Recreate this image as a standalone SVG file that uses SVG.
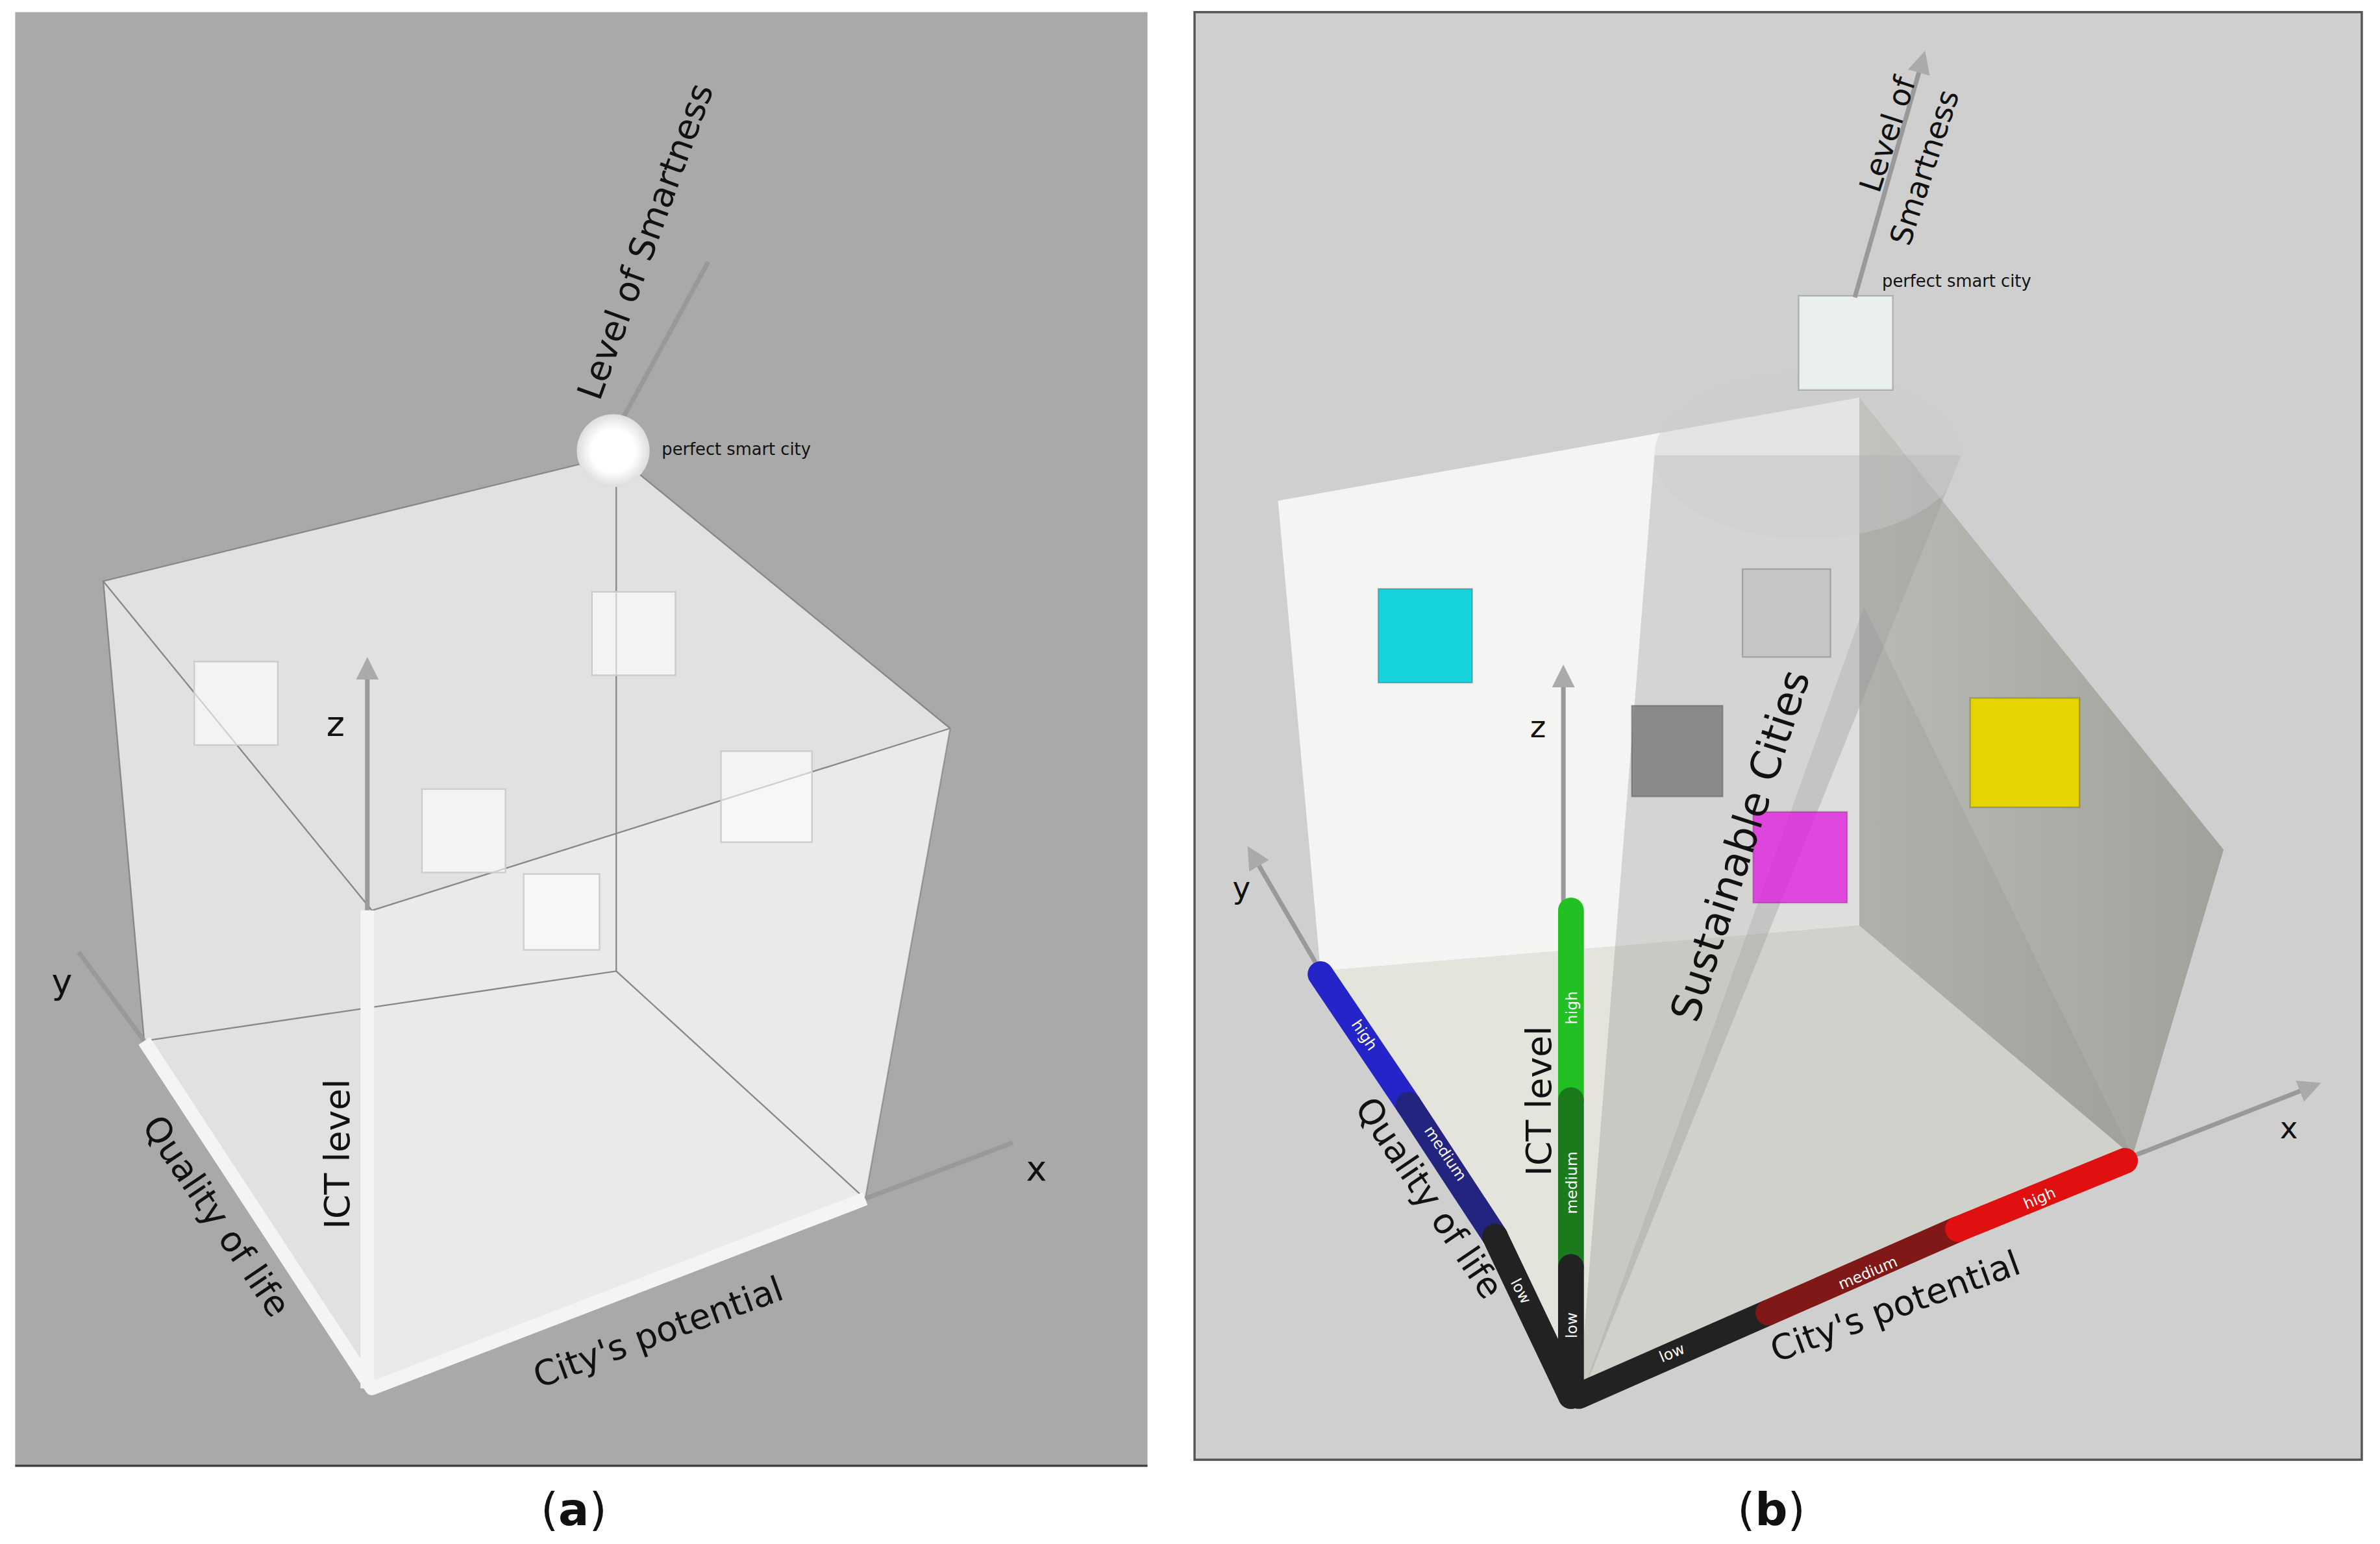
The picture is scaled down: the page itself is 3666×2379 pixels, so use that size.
<svg xmlns="http://www.w3.org/2000/svg" width="3666" height="2379" viewBox="0 0 3666 2379">
<style>
text{font-family:"DejaVu Sans","Liberation Sans",sans-serif;fill:#111}
.lbl{font-size:23px}
.sm{font-size:11px}
.tl{font-size:10px;fill:#fff}
.ax{stroke:#999;stroke-width:3;fill:none;marker-end:url(#ah)}
.edge{stroke:#888;stroke-width:1;fill:none}
</style>
<defs>
<marker id="ah" viewBox="0 0 10 10" refX="2" refY="5" markerWidth="5" markerHeight="5" orient="auto"><path d="M0,0 L10,5 L0,10 z" fill="#aaa"/></marker>
<radialGradient id="sph"><stop offset="0.6" stop-color="#fff"/><stop offset="1" stop-color="#ddd"/></radialGradient>
<linearGradient id="rw" x1="0" y1="0" x2="1" y2="0"><stop offset="0" stop-color="#b8b8b2"/><stop offset="1" stop-color="#9c9c96"/></linearGradient>
</defs>
<rect width="3666" height="2379" fill="#fff"/>
<g transform="scale(2.338)">
<g id="panel-a">
<rect x="10" y="8" width="746" height="958" fill="#a9a9a9"/>
<line x1="10" y1="966" x2="756" y2="966" stroke="#444" stroke-width="1.5"/>
<polygon points="68,383 406,300 626,480 570,790 245,915 95,686" fill="#fff" fill-opacity="0.65" stroke="#888"/>
<polygon points="245,600 626,480 570,790 245,915" fill="#fff" fill-opacity="0.3"/>
<polyline class="edge" points="68,383 245,600 626,480"/>
<line class="edge" x1="245" y1="600" x2="245" y2="915"/>
<polyline class="edge" points="406,300 406,640 95,686"/>
<line class="edge" x1="406" y1="640" x2="570" y2="790"/>
<g id="cubes-a" fill="#fff" fill-opacity="0.6" stroke="#ccc">
<rect x="128" y="436" width="55" height="55"/><rect x="390" y="390" width="55" height="55"/><rect x="278" y="520" width="55" height="55"/><rect x="475" y="495" width="60" height="60"/><rect x="345" y="576" width="50" height="50"/>
</g>
<g id="axes-a">
<line class="ax" x1="242" y1="600" x2="242" y2="445"/>
<line class="ax" x1="95" y1="686" x2="50" y2="625"/>
<line class="ax" x1="570" y1="790" x2="670" y2="752"/>
<line class="ax" x1="408" y1="280" x2="468" y2="170"/>
<polyline points="95,686 245,915 570,790" fill="none" stroke="#f4f4f4" stroke-width="9" stroke-linejoin="round"/>
<line x1="242" y1="600" x2="242" y2="915" stroke="#f4f4f4" stroke-width="9"/>
</g>
<circle cx="404" cy="297" r="24" fill="url(#sph)"/>
<text class="sm" x="436" y="300">perfect smart city</text>
<text class="lbl" x="215" y="485">z</text>
<text class="lbl" x="34" y="655">y</text>
<text class="lbl" x="676" y="778">x</text>
<text class="lbl" transform="translate(395,265) rotate(-70)">Level of Smartness</text>
<text class="lbl" transform="translate(93,742) rotate(56)">Quality of life</text>
<text class="lbl" transform="translate(230,810) rotate(-90)">ICT level</text>
<text class="lbl" transform="translate(355,915) rotate(-20)">City's potential</text>
</g>
<g id="panel-b">
<rect x="787" y="8" width="769" height="954" fill="#cfcfcf" stroke="#555" stroke-width="1.5"/>
<polygon points="842,330 1225,262 1225,610 870,640" fill="#f4f4f2"/>
<polygon points="1225,262 1465,560 1405,762 1225,610" fill="url(#rw)" fill-opacity="0.9"/>
<polygon points="870,640 1225,610 1405,762 1040,925" fill="#e4e4dc"/>
<polygon points="1040,925 1090,300 1292,300" fill="#999" fill-opacity="0.35"/>
<polygon points="1040,925 1228,400 1405,762" fill="#888" fill-opacity="0.2"/>
<ellipse cx="1191" cy="300" rx="101" ry="55" fill="#ccc" fill-opacity="0.4"/>
<g id="cubes-b" stroke="#0003">
<rect x="908" y="388" width="62" height="62" fill="#17d3db"/>
<rect x="1148" y="375" width="58" height="58" fill="#bbb" fill-opacity="0.6"/>
<rect x="1075" y="465" width="60" height="60" fill="#777" fill-opacity="0.8"/>
<rect x="1155" y="535" width="62" height="60" fill="#e020e0" fill-opacity="0.8"/>
<rect x="1298" y="460" width="72" height="72" fill="#e6d400"/>
<rect x="1185" y="195" width="62" height="62" fill="#eef4f6" fill-opacity="0.85"/>
</g>
<g id="axes-b">
<line class="ax" x1="870" y1="640" x2="828" y2="568"/>
<line class="ax" x1="1405" y1="762" x2="1518" y2="718"/>
<line class="ax" x1="1030" y1="600" x2="1030" y2="450"/>
<line class="ax" x1="1222" y1="196" x2="1265" y2="45"/>
<g stroke-width="17" stroke-linecap="round">
<line x1="870" y1="642" x2="928" y2="728" stroke="#2424c8"/>
<line x1="928" y1="728" x2="985" y2="815" stroke="#232380"/>
<line x1="985" y1="815" x2="1035" y2="920" stroke="#222"/>
<line x1="1035" y1="600" x2="1035" y2="725" stroke="#22c022"/>
<line x1="1035" y1="725" x2="1035" y2="835" stroke="#1b7a1b"/>
<line x1="1035" y1="835" x2="1035" y2="920" stroke="#222"/>
<line x1="1040" y1="920" x2="1165" y2="865" stroke="#222"/>
<line x1="1165" y1="865" x2="1290" y2="810" stroke="#801818"/>
<line x1="1290" y1="810" x2="1400" y2="765" stroke="#e01010"/>
</g>
</g>
<text class="tl" transform="translate(890,675) rotate(56)">high</text>
<text class="tl" transform="translate(938,745) rotate(56)">medium</text>
<text class="tl" transform="translate(995,845) rotate(62)">low</text>
<text class="tl" transform="translate(1039,675) rotate(-90)">high</text>
<text class="tl" transform="translate(1039,800) rotate(-90)">medium</text>
<text class="tl" transform="translate(1039,882) rotate(-90)">low</text>
<text class="tl" transform="translate(1095,898) rotate(-23)">low</text>
<text class="tl" transform="translate(1213,850) rotate(-23)">medium</text>
<text class="tl" transform="translate(1335,797) rotate(-23)">high</text>
<text class="sm" x="1240" y="189">perfect smart city</text>
<text x="1008" y="486" font-size="20">z</text>
<text x="812" y="592" font-size="20">y</text>
<text x="1502" y="750" font-size="20">x</text>
<text font-size="20" transform="translate(1238,128) rotate(-72)">Level of</text>
<text font-size="20" transform="translate(1258,163) rotate(-72)">Smartness</text>
<text font-size="27" transform="translate(1118,675) rotate(-72)">Sustainable Cities</text>
<text class="lbl" transform="translate(892,730) rotate(56)">Quality of life</text>
<text class="lbl" transform="translate(1022,775) rotate(-90)">ICT level</text>
<text class="lbl" transform="translate(1170,898) rotate(-20)">City's potential</text>
</g>
<text x="378" y="1005" font-family="Liberation Serif" font-size="30" text-anchor="middle">(<tspan font-weight="bold">a</tspan>)</text>
<text x="1167" y="1005" font-family="Liberation Serif" font-size="30" text-anchor="middle">(<tspan font-weight="bold">b</tspan>)</text>
</g>
</svg>
